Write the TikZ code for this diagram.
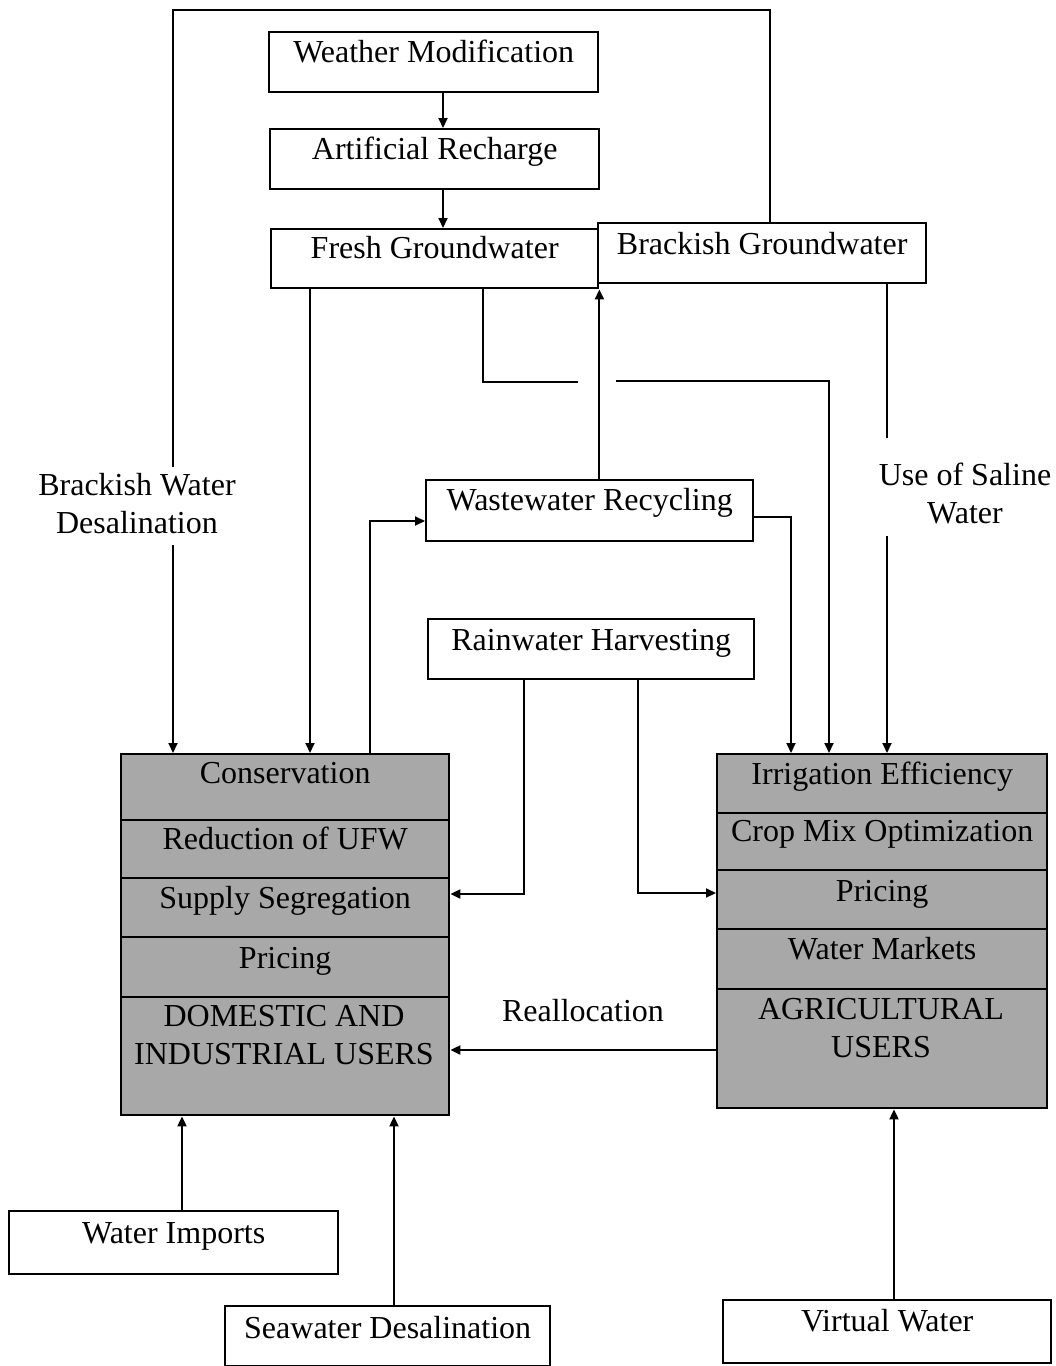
\documentclass[tikz,border=0pt]{standalone}
\usepackage{fontspec}
\setmainfont{Liberation Serif}
\usetikzlibrary{arrows.meta}
\definecolor{shadegray}{gray}{0.66}
\begin{document}
\begin{tikzpicture}[x=1pt,y=-1pt,
  every node/.style={inner sep=0pt, font=\fontsize{32}{38}\selectfont},
  box/.style={draw, line width=2.4pt, fill=white, anchor=north west},
  row/.style={draw, line width=2.4pt, fill=shadegray, anchor=north west},
  wire/.style={line width=2pt},
  arr/.style={line width=2pt, -{Triangle[length=10pt,width=9pt]}},
  lbl/.style={align=center, anchor=north}]
\useasboundingbox (0,0) rectangle (1056,1366);

% top boxes
\node[box, minimum width=329pt, minimum height=60pt, text height=30pt, text depth=30pt] (wm) at (268,31) {Weather Modification};
\node[box, minimum width=329pt, minimum height=60pt, text height=30pt, text depth=30pt] (ar) at (269,128) {Artificial Recharge};
\node[box, minimum width=327pt, minimum height=59pt, text height=29pt, text depth=30pt] (fg) at (270,228) {Fresh Groundwater};
\node[box, minimum width=328pt, minimum height=60pt, text height=31pt, text depth=29pt] (bg) at (597,222) {Brackish Groundwater};
\node[box, minimum width=327pt, minimum height=61pt, text height=30pt, text depth=31pt] (wr) at (425,479) {Wastewater Recycling};
\node[box, minimum width=326pt, minimum height=60pt, text height=31pt, text depth=29pt] (rh) at (427,618) {Rainwater Harvesting};

% bottom boxes
\node[box, minimum width=329pt, minimum height=63pt, text height=32pt, text depth=31pt] (wi) at (8,1210) {Water Imports};
\node[box, minimum width=325pt, minimum height=60pt, text height=32pt, text depth=28pt] (sd) at (224,1305) {Seawater Desalination};
\node[box, minimum width=328pt, minimum height=63pt, text height=31pt, text depth=32pt] (vw) at (722,1299) {Virtual Water};

% domestic stack
\node[row, minimum width=328pt, minimum height=66pt, text height=29pt, text depth=37pt] (d1) at (120,753) {Conservation};
\node[row, minimum width=328pt, minimum height=58pt, text height=29pt, text depth=29pt] (d2) at (120,819) {Reduction of UFW};
\node[row, minimum width=328pt, minimum height=59pt, text height=30pt, text depth=29pt] (d3) at (120,877) {Supply Segregation};
\node[row, minimum width=328pt, minimum height=60pt, text height=31pt, text depth=29pt] (d4) at (120,936) {Pricing};
\node[row, minimum width=328pt, minimum height=118pt] (d5) at (120,996) {};
\node[lbl] (d5t) at (284,1005) {DOMESTIC AND\\INDUSTRIAL USERS};

% agricultural stack
\node[row, minimum width=330pt, minimum height=59pt, text height=30pt, text depth=29pt] (a1) at (716,753) {Irrigation Efficiency};
\node[row, minimum width=330pt, minimum height=57pt, text height=28pt, text depth=29pt] (a2) at (716,812) {Crop Mix Optimization};
\node[row, minimum width=330pt, minimum height=59pt, text height=31pt, text depth=28pt] (a3) at (716,869) {Pricing};
\node[row, minimum width=330pt, minimum height=60pt, text height=30pt, text depth=30pt] (a4) at (716,928) {Water Markets};
\node[row, minimum width=330pt, minimum height=119pt] (a5) at (716,988) {};
\node[lbl] (a5t) at (881,998) {AGRICULTURAL\\USERS};

% free labels
\node[lbl] (bwd) at (137,473) {Brackish Water\\Desalination};
\node[lbl] (usw) at (965,463) {Use of Saline\\Water};
\node[anchor=base] (realloc) at (583,1021) {Reallocation};

% helper coordinates
\coordinate (x443) at (443,0);
\coordinate (lt) at (173,10);
\coordinate (rt) at (770,10);
\coordinate (x310) at (310,0);
\coordinate (x483) at (483,0);
\coordinate (g1) at (578,382);
\coordinate (g2) at (616,381);
\coordinate (x829) at (829,0);
\coordinate (x370) at (370,0);
\coordinate (y521) at (0,521);
\coordinate (p1) at (791,517);
\coordinate (x887) at (887,0);
\coordinate (q1) at (524,894);
\coordinate (q2) at (638,893);
\coordinate (yr) at (0,1050);
\coordinate (x182) at (182,0);
\coordinate (x394) at (394,0);
\coordinate (x894) at (894,0);

% connectors
\draw[arr] (wm.south -| x443) -- (ar.north -| x443);
\draw[arr] (ar.south -| x443) -- (fg.north -| x443);
\draw[wire] (bg.north -| rt) -- (rt) -- (lt) -- ([yshift=6pt]bwd.north -| lt);
\draw[arr] ([yshift=-11pt]bwd.south -| lt) -- (d1.north -| lt);
\draw[arr] (fg.south -| x310) -- (d1.north -| x310);
\draw[wire] (fg.south -| x483) |- (g1);
\draw[arr] (g2) -| (a1.north -| x829);
\draw[arr] (wr.north -| fg.east) -- (fg.south east);
\draw[arr] (d1.north -| x370) |- (wr.west |- y521);
\draw[arr] (wr.east |- p1) -| (a1.north -| p1);
\draw[wire] (bg.south -| x887) -- ([yshift=25pt]usw.north -| x887);
\draw[arr] ([yshift=-12pt]usw.south -| x887) -- (a1.north -| x887);
\draw[arr] (rh.south -| q1) |- (d3.east |- q1);
\draw[arr] (rh.south -| q2) |- (a3.west |- q2);
\draw[arr] (a5.west |- yr) -- (d5.east |- yr);
\draw[arr] (wi.north -| x182) -- (d5.south -| x182);
\draw[arr] (sd.north -| x394) -- (d5.south -| x394);
\draw[arr] (vw.north -| x894) -- (a5.south -| x894);
\end{tikzpicture}
\end{document}
